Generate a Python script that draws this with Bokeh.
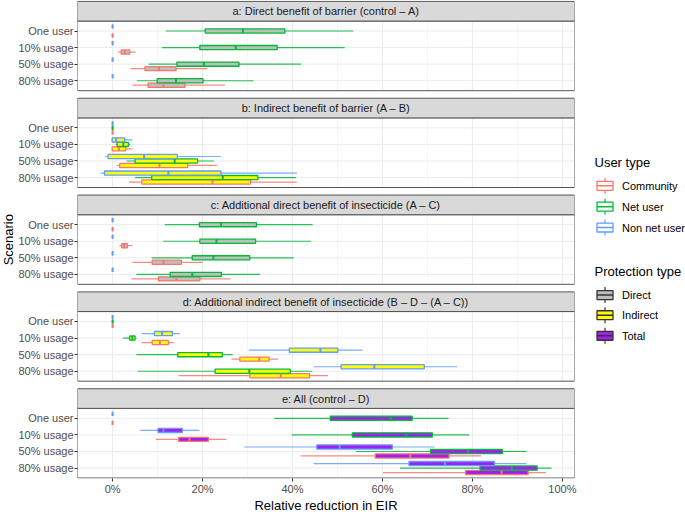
import math
from bokeh.plotting import figure
from bokeh.models import (Range1d, FixedTicker, CustomJSTickFormatter,
                          NumeralTickFormatter, ColumnDataSource)
from bokeh.layouts import row, column
from bokeh.embed import file_html
from bokeh.resources import INLINE
from bokeh.core.properties import value

# ---------------- data ----------------
scenarios = ["One user", "10% usage", "50% usage", "80% usage"]
user_types = ["Community", "Net user", "Non net user"]
user_colors = ["#F8766D", "#00BA38", "#619CFF"]
protection_types = ["Direct", "Indirect", "Total"]
protection_fills = ["#BEBEBE", "#FFFF00", "#A020F0"]

panel_titles = [
    "a: Direct benefit of barrier (control \u2013 A)",
    "b: Indirect benefit of barrier (A \u2013 B)",
    "c: Additional direct benefit of insecticide (A \u2013 C)",
    "d: Additional indirect benefit of insecticide (B \u2013 D \u2013 (A \u2013 C))",
    "e: All (control \u2013 D)",
]
panel_protection = ["Direct", "Indirect", "Direct", "Indirect", "Total"]

# each row: [whisker low, Q1, median, Q3, whisker high] in %, per scenario
Z = [0, 0, 0, 0, 0]
a_community = [Z, [1.2, 1.9, 2.7, 3.8, 5.1], [4.0, 7.2, 10.3, 14.1, 21.0], [4.4, 7.9, 11.3, 16.1, 25.0]]
a_net_user = [[11.8, 20.6, 29.0, 38.3, 53.5], [11.0, 19.4, 27.4, 36.6, 51.6],
              [8.0, 14.3, 20.3, 28.1, 41.9], [5.4, 9.9, 14.1, 20.1, 31.3]]
a_non_net_user = [Z, Z, Z, Z]

b_community = [Z, [-0.1, -0.1, 1.4, 2.9, 4.4], [1.0, 1.6, 10.4, 16.7, 23.3], [3.7, 6.5, 22.2, 30.7, 41.0]]
b_net_user = [Z, [0.7, 1.0, 2.4, 3.5, 3.9], [3.1, 5.0, 13.8, 18.9, 22.5], [5.0, 8.7, 24.5, 32.3, 40.8]]
b_non_net_user = [Z, [-0.2, -0.1, 0.8, 2.7, 4.4], [-1.7, -1.0, 7.0, 14.4, 24.1], [-2.7, -1.8, 12.4, 24.1, 41.0]]

c_community = [Z, [1.5, 2.0, 2.6, 3.3, 4.4], [4.4, 8.8, 11.3, 15.3, 20.1], [4.2, 10.2, 14.2, 19.4, 26.2]]
c_net_user = [[11.6, 19.3, 24.1, 32.0, 44.5], [11.2, 19.4, 23.1, 31.8, 44.1],
              [8.7, 17.7, 22.4, 30.5, 40.3], [5.3, 12.8, 17.7, 24.2, 32.8]]
c_non_net_user = [Z, Z, Z, Z]

d_community = [Z, [6.4, 8.8, 10.5, 12.4, 13.6], [26.4, 28.3, 32.6, 34.8, 36.8], [14.7, 30.5, 37.4, 43.8, 47.9]]
d_net_user = [Z, [2.3, 3.8, 4.4, 5.0, 5.3], [5.3, 14.5, 21.3, 24.4, 26.7], [5.6, 22.8, 30.4, 39.5, 44.4]]
d_non_net_user = [Z, [6.5, 9.3, 11.0, 13.3, 15.0], [30.3, 39.3, 46.2, 50.1, 55.6], [44.7, 50.8, 58.2, 69.3, 76.6]]

e_community = [Z, [9.6, 14.7, 17.1, 21.3, 25.3], [41.8, 58.4, 66.2, 74.8, 81.9], [60.1, 78.5, 86.5, 92.4, 96.4]]
e_net_user = [[35.9, 48.4, 61.8, 66.6, 74.7], [39.8, 53.3, 65.3, 71.1, 79.3],
              [54.1, 70.7, 79.0, 86.7, 92.1], [63.9, 81.7, 88.8, 94.4, 97.6]]
e_non_net_user = [Z, [6.2, 10.1, 11.3, 15.5, 19.3], [29.3, 45.4, 50.5, 62.2, 71.6], [44.7, 65.9, 73.9, 84.9, 92.0]]

panels_data = [
    [a_community, a_net_user, a_non_net_user],
    [b_community, b_net_user, b_non_net_user],
    [c_community, c_net_user, c_non_net_user],
    [d_community, d_net_user, d_non_net_user],
    [e_community, e_net_user, e_non_net_user],
]

x_major = [0, 0.2, 0.4, 0.6, 0.8, 1.0]
x_minor = [0.1, 0.3, 0.5, 0.7, 0.9]

# ---------------- layout helpers ----------------
FONT = "Liberation Sans"
S, P, G = 19.8, 70.1, 7.6          # strip, panel, gap heights
TOTAL = 5 * (S + P) + 4 * G
XMIN, XMAX = -0.078, 1.027
u = P / 4.2                        # one discrete step
dodge = 0.27 * u
hh = 2.1                           # half box height
user_offset = {"Community": dodge, "Net user": 0.0, "Non net user": -dodge}
TOPB, BOTB = 0, 16
W_LEFT, W_MAIN, W_LEG = 15, 563, 107
H_TOP, H_BOT = 497, 15
yr = Range1d(TOTAL + 0.5, -0.9)


def panel_top(i):
    return i * (S + P + G) + S


def cat_y(i, k):
    return panel_top(i) + (0.6 + k) * u


p = figure(width=W_MAIN, height=H_TOP, output_backend="svg", toolbar_location=None,
           x_range=Range1d(XMIN, XMAX), y_range=yr,
           min_border_left=77 - W_LEFT, min_border_right=W_LEFT + W_MAIN - 574,
           min_border_top=TOPB, min_border_bottom=BOTB)
p.outline_line_color = None
p.xgrid.visible = False
p.ygrid.visible = False

# gridlines
gx0, gy0, gx1, gy1, gw = [], [], [], [], []
for i in range(5):
    t, b = panel_top(i), panel_top(i) + P
    for x in x_minor:
        gx0.append(x); gx1.append(x); gy0.append(t); gy1.append(b); gw.append(0.5)
    for x in x_major:
        gx0.append(x); gx1.append(x); gy0.append(t); gy1.append(b); gw.append(1.0)
    for k in range(4):
        y = cat_y(i, k)
        gx0.append(XMIN); gx1.append(XMAX); gy0.append(y); gy1.append(y); gw.append(1.0)
p.segment(x0=gx0, y0=gy0, x1=gx1, y1=gy1, line_color="#EBEBEB", line_width=gw)

# boxes
rows = dict(y=[], lo=[], q1=[], med=[], q3=[], hi=[], top=[], bot=[], fill=[], line=[])
for i in range(5):
    fill = protection_fills[protection_types.index(panel_protection[i])]
    for j, ut in enumerate(user_types):
        for k in range(4):
            lo, q1, med, q3, hi = [v / 100.0 for v in panels_data[i][j][k]]
            y = cat_y(i, k) + user_offset[ut]
            rows["y"].append(y); rows["lo"].append(lo); rows["q1"].append(q1)
            rows["med"].append(med); rows["q3"].append(q3); rows["hi"].append(hi)
            rows["top"].append(y - hh); rows["bot"].append(y + hh)
            rows["fill"].append(fill); rows["line"].append(user_colors[j])
src = ColumnDataSource(rows)
p.segment(x0="lo", y0="y", x1="hi", y1="y", source=src, line_color="line",
          line_width=1.2, line_alpha=0.85)
p.quad(left="q1", right="q3", top="top", bottom="bot", source=src,
       fill_color="fill", line_color="line", line_width=1.3)
p.segment(x0="med", y0="top", x1="med", y1="bot", source=src, line_color="line",
          line_width=2.0)

# panel borders and strips
pt = [panel_top(i) for i in range(5)]
p.quad(left=XMIN, right=XMAX, top=pt, bottom=[t + P for t in pt],
       fill_color=None, line_color="#555555", line_width=1)
st = [t - S for t in pt]
p.quad(left=XMIN, right=XMAX, top=st, bottom=pt,
       fill_color="#D9D9D9", line_color="#555555", line_width=1)
p.text(x=[(XMIN + XMAX) / 2] * 5, y=[t - S / 2 for t in pt], text=panel_titles,
       text_font=value(FONT), text_font_size="11px", text_color="#1A1A1A",
       text_align="center", text_baseline="middle")

# axes
ytick_pos = [cat_y(i, k) for i in range(5) for k in range(4)]
ytick_lab = [scenarios[k] for i in range(5) for k in range(4)]
p.yaxis.ticker = FixedTicker(ticks=ytick_pos)
p.yaxis.formatter = CustomJSTickFormatter(args=dict(pos=ytick_pos, labs=ytick_lab), code="""
let best = 0;
for (let i = 0; i < pos.length; i++) {
  if (Math.abs(pos[i] - tick) < Math.abs(pos[best] - tick)) best = i;
}
return labs[best];
""")
p.xaxis.ticker = FixedTicker(ticks=x_major)
p.xaxis.formatter = NumeralTickFormatter(format="0%")
for ax in (p.xaxis, p.yaxis):
    ax.axis_line_color = None
    ax.major_tick_line_color = "#333333"
    ax.major_tick_in = 0
    ax.major_tick_out = 3
    ax.minor_tick_line_color = None
    ax.major_label_text_font = FONT
    ax.major_label_text_font_size = "11px"
    ax.major_label_text_color = "#4D4D4D"
    ax.major_label_standoff = 1

# ---------------- left strip with the y axis title ----------------
left = figure(width=W_LEFT, height=H_TOP, output_backend="svg", toolbar_location=None,
              x_range=Range1d(0, W_LEFT), y_range=yr,
              x_axis_location=None, y_axis_location=None,
              min_border_left=0, min_border_right=0,
              min_border_top=TOPB, min_border_bottom=BOTB)
left.outline_line_color = None
left.grid.visible = False
left.text(x=[7.5], y=[TOTAL / 2], text=["Scenario"], angle=math.pi / 2,
          text_font=value(FONT), text_font_size="13px", text_color="#000000",
          text_align="center", text_baseline="middle")

# ---------------- legend figure (shares the vertical scale) ----------------
leg = figure(width=W_LEG, height=H_TOP, output_backend="svg", toolbar_location=None,
             x_range=Range1d(0, W_LEG), y_range=yr,
             x_axis_location=None, y_axis_location=None,
             min_border_left=0, min_border_right=0,
             min_border_top=TOPB, min_border_bottom=BOTB)
leg.outline_line_color = None
leg.grid.visible = False

KX0, KX1 = 18.5, 34.5
KXC = (KX0 + KX1) / 2
user_rows_y = [185.7, 206.7, 227.7]
prot_rows_y = [295.7, 316.0, 336.7]


def draw_keys(ys, fills, lines):
    leg.segment(x0=[KXC] * len(ys), x1=[KXC] * len(ys), y0=[y - 8 for y in ys],
                y1=[y + 8 for y in ys], line_color=lines, line_width=1.2)
    leg.quad(left=KX0, right=KX1, top=[y - 4.5 for y in ys], bottom=[y + 4.5 for y in ys],
             fill_color=fills, line_color=lines, line_width=1.3)
    leg.segment(x0=[KX0] * len(ys), x1=[KX1] * len(ys), y0=ys, y1=ys,
                line_color=lines, line_width=1.6)


draw_keys(user_rows_y, ["white"] * 3, user_colors)
draw_keys(prot_rows_y, protection_fills, ["#333333"] * 3)

leg.text(x=[KX0 - 2.5, KX0 - 2.5], y=[162, 271.7], text=["User type", "Protection type"],
         text_font=value(FONT), text_font_size="13px", text_color="#000000",
         text_align="left", text_baseline="middle")
leg.text(x=[43.5] * 6, y=user_rows_y + prot_rows_y, text=user_types + protection_types,
         text_font=value(FONT), text_font_size="11px", text_color="#000000",
         text_align="left", text_baseline="middle")

# ---------------- bottom strip with the x axis title ----------------
W_ALL = W_LEFT + W_MAIN + W_LEG
bot = figure(width=W_ALL, height=H_BOT, output_backend="svg", toolbar_location=None,
             x_range=Range1d(0, W_ALL), y_range=Range1d(H_BOT, 0),
             x_axis_location=None, y_axis_location=None, min_border=0)
bot.outline_line_color = None
bot.grid.visible = False
bot.text(x=[(77 + 574) / 2], y=[7.5], text=["Relative reduction in EIR"],
         text_font=value(FONT), text_font_size="13px", text_color="#000000",
         text_align="center", text_baseline="middle")

layout = column(row(left, p, leg), bot)
open("out.html", "w").write(file_html(layout, INLINE))
